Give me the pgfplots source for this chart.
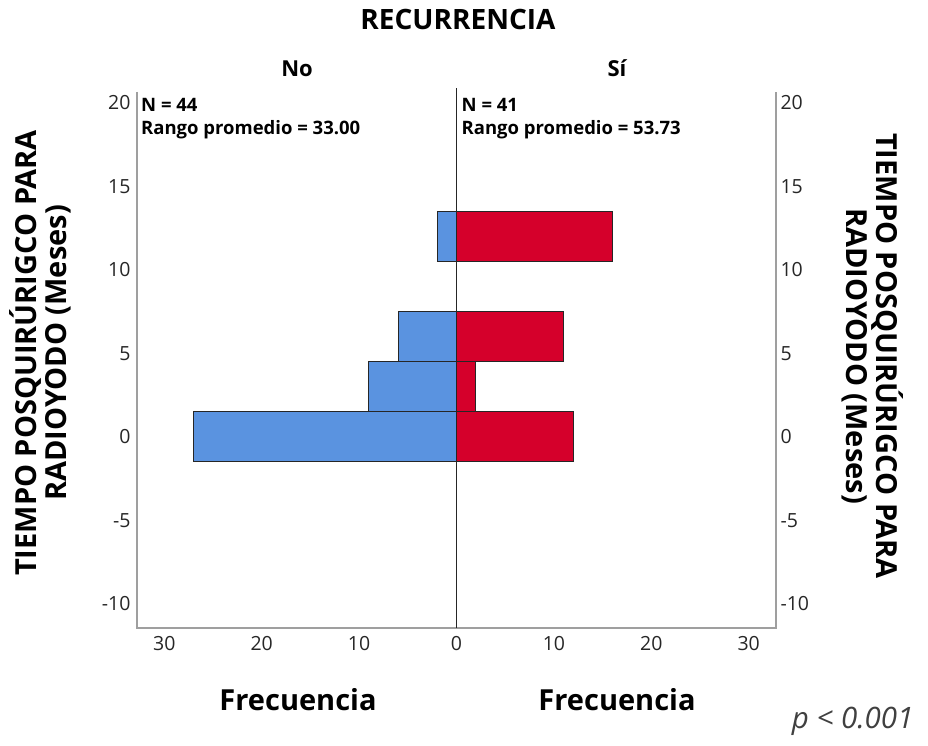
\documentclass[border=0pt]{standalone}
\usepackage{fontspec}
\setmainfont{Open Sans}
\usepackage{pgfplots}
\pgfplotsset{compat=1.18}
\definecolor{barblue}{RGB}{90,147,224}
\definecolor{barred}{RGB}{213,0,43}
\begin{document}
\begin{tikzpicture}
\useasboundingbox (0,0) rectangle (928pt,745pt);
\begin{axis}[
  at={(137pt,117pt)}, anchor=south west,
  width=639pt, height=536pt, scale only axis,
  xmin=-32.8, xmax=32.8, ymin=-11.45, ymax=20.65,
  xtick={-30,-20,-10,0,10,20,30},
  xticklabels={30,20,10,0,10,20,30},
  ytick={-10,-5,0,5,10,15,20},
  major tick length=0pt,
  axis line style={draw=none},
  tick label style={font=\fontsize{19.5}{22}\selectfont, text=black!85},
  /pgf/number format/assume math mode=true,
  xticklabel style={yshift=-5pt},
  yticklabel style={xshift=-3pt},
  clip=false,
  xbar, bar width=3, bar shift=0pt,
]
\addplot[fill=barblue, draw=black!85, line width=1pt] coordinates {(-2,12) (-6,6) (-9,3) (-27,0)};
\addplot[fill=barred, draw=black!85, line width=1pt] coordinates {(16,12) (11,6) (2,3) (12,0)};
\draw[gray!75, line width=1.6pt] (rel axis cs:0,1) -- (rel axis cs:0,0) -- (rel axis cs:1,0) -- (rel axis cs:1,1);
\draw[black!85, line width=1.5pt] (axis cs:0,-11.45) -- ([yshift=4pt]axis cs:0,20.65);
\node[anchor=north west, inner sep=0pt, align=left, xshift=4pt, yshift=-6pt,
  font=\fontsize{18.5}{23}\selectfont\bfseries] at (axis cs:-32.8,20.65) {N = 44\\Rango promedio = 33.00};
\node[anchor=north west, inner sep=0pt, align=left, xshift=5pt, yshift=-6pt,
  font=\fontsize{18.5}{23}\selectfont\bfseries] at (axis cs:0,20.65) {N = 41\\Rango promedio = 53.73};
\end{axis}
\begin{axis}[
  at={(137pt,117pt)}, anchor=south west,
  width=639pt, height=536pt, scale only axis,
  xmin=-32.8, xmax=32.8, ymin=-11.45, ymax=20.65,
  xtick=\empty,
  ytick={-10,-5,0,5,10,15,20},
  yticklabel pos=right,
  major tick length=0pt,
  axis line style={draw=none},
  tick label style={font=\fontsize{19.5}{22}\selectfont, text=black!85},
  /pgf/number format/assume math mode=true,
  yticklabel style={xshift=1pt},
]
\addplot[draw=none] coordinates {(0,0)};
\end{axis}
\node[anchor=base, font=\fontsize{28}{30}\selectfont\bfseries] at (458pt,715pt) {RECURRENCIA};
\node[anchor=base, font=\fontsize{22}{24}\selectfont\bfseries] at (297pt,668pt) {No};
\node[anchor=base, font=\fontsize{22}{24}\selectfont\bfseries] at (617pt,668pt) {Sí};
\node[anchor=base, font=\fontsize{29}{31}\selectfont\bfseries] at (298pt,35pt) {Frecuencia};
\node[anchor=base, font=\fontsize{29}{31}\selectfont\bfseries] at (617pt,35pt) {Frecuencia};
\node[anchor=base east, font=\fontsize{29.5}{31}\selectfont\itshape, text=black!75] at (917pt,17pt) {p < 0.001};
\node[rotate=90, align=center, font=\fontsize{29}{30}\selectfont\bfseries] at (40pt,392pt) {TIEMPO POSQUIRÚRIGCO PARA\\RADIOYODO (Meses)};
\node[rotate=-90, align=center, font=\fontsize{29}{30}\selectfont\bfseries] at (873pt,389pt) {TIEMPO POSQUIRÚRIGCO PARA\\RADIOYODO (Meses)};
\end{tikzpicture}
\end{document}
